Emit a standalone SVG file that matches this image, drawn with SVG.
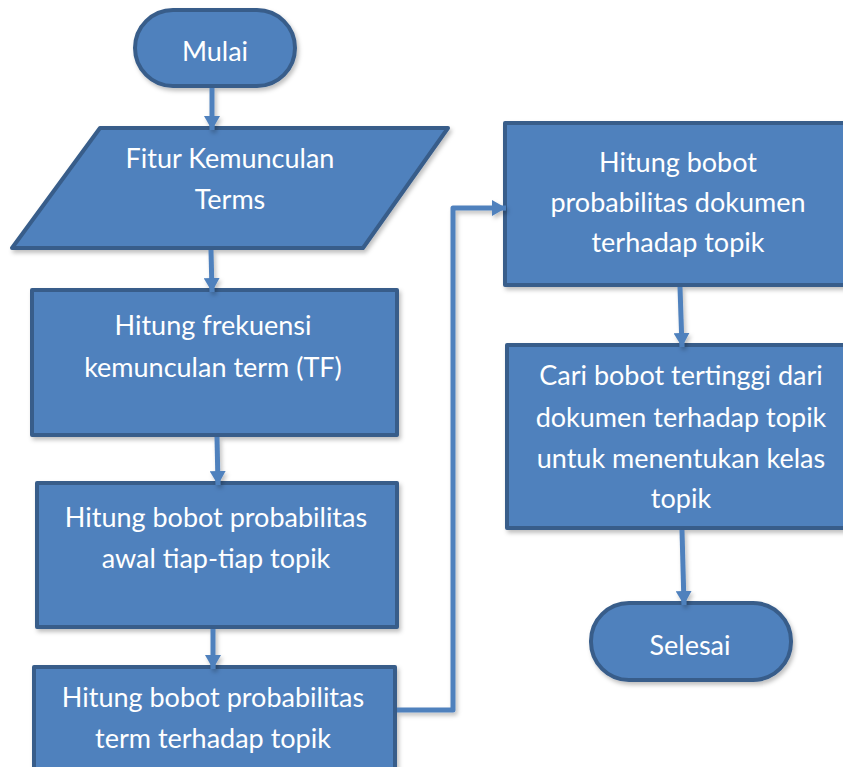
<svg xmlns="http://www.w3.org/2000/svg" width="843" height="767" viewBox="0 0 843 767">
  <style>
    .shape { fill: #4F81BD; stroke: #385D8A; stroke-width: 4; stroke-linejoin: round; filter: url(#shadow); }
    .label { fill: #FFFFFF; font-family: Lato, "Open Sans", "Liberation Sans", sans-serif; font-size: 27px; text-anchor: middle; }
    .conn { fill: none; stroke: #4F81BD; stroke-width: 5; stroke-linejoin: round; filter: url(#lshadow); }
  </style>
  <defs>
    <filter id="shadow" x="-10%" y="-10%" width="130%" height="130%">
      <feDropShadow dx="2" dy="3" stdDeviation="2" flood-color="#000000" flood-opacity="0.25"/>
    </filter>
    <filter id="lshadow" filterUnits="userSpaceOnUse" x="0" y="0" width="843" height="767">
      <feDropShadow dx="2" dy="3" stdDeviation="2" flood-color="#000000" flood-opacity="0.25"/>
    </filter>
    <marker id="arrow" markerUnits="userSpaceOnUse" markerWidth="16" markerHeight="16" viewBox="0 0 16 16" refX="14" refY="8" orient="auto">
      <path d="M0,0 L14,8 L0,16 z" fill="#4F81BD"/>
    </marker>
  </defs>
  <rect width="843" height="767" fill="#FFFFFF"/>

  <g id="mulai">
    <rect class="shape" x="135" y="10" width="160" height="76" rx="38" ry="38"/>
    <text class="label" x="215" y="61">Mulai</text>
  </g>

  <g id="fitur">
    <polygon class="shape" points="100,128 448,128 363,248 12,248"/>
    <text class="label" x="230" y="168">Fitur Kemunculan</text>
    <text class="label" x="230" y="209">Terms</text>
  </g>

  <g id="hitung-tf">
    <rect class="shape" x="32" y="290" width="365" height="145"/>
    <text class="label" x="213" y="335">Hitung frekuensi</text>
    <text class="label" x="213" y="377">kemunculan term (TF)</text>
  </g>

  <g id="hitung-awal">
    <rect class="shape" x="37" y="483" width="360" height="144"/>
    <text class="label" x="216" y="527">Hitung bobot probabilitas</text>
    <text class="label" x="216" y="568">awal tiap-tiap topik</text>
  </g>

  <g id="hitung-term">
    <rect class="shape" x="34" y="667" width="361" height="110"/>
    <text class="label" x="213" y="707">Hitung bobot probabilitas</text>
    <text class="label" x="213" y="748">term terhadap topik</text>
  </g>

  <g id="hitung-dokumen">
    <rect class="shape" x="505" y="123" width="347" height="162"/>
    <text class="label" x="678" y="172">Hitung bobot</text>
    <text class="label" x="678" y="212">probabilitas dokumen</text>
    <text class="label" x="678" y="252">terhadap topik</text>
  </g>

  <g id="cari-bobot">
    <rect class="shape" x="507" y="345" width="348" height="183"/>
    <text class="label" x="681" y="385">Cari bobot tertinggi dari</text>
    <text class="label" x="681" y="427">dokumen terhadap topik</text>
    <text class="label" x="681" y="468">untuk menentukan kelas</text>
    <text class="label" x="681" y="508">topik</text>
  </g>

  <g id="selesai">
    <rect class="shape" x="591" y="603" width="200" height="77" rx="38" ry="38"/>
    <text class="label" x="690" y="655">Selesai</text>
  </g>

  <g id="connectors">
    <path class="conn" d="M212,88 L212,130" marker-end="url(#arrow)"/>
    <path class="conn" d="M211,250 L212,292" marker-end="url(#arrow)"/>
    <path class="conn" d="M217,437 L218,485" marker-end="url(#arrow)"/>
    <path class="conn" d="M213,629 L213,669" marker-end="url(#arrow)"/>
    <path class="conn" d="M397,710 L453,710 L453,208 L506,208" marker-end="url(#arrow)"/>
    <path class="conn" d="M680,287 L682,347" marker-end="url(#arrow)"/>
    <path class="conn" d="M682,530 L684,605" marker-end="url(#arrow)"/>
  </g>
</svg>
